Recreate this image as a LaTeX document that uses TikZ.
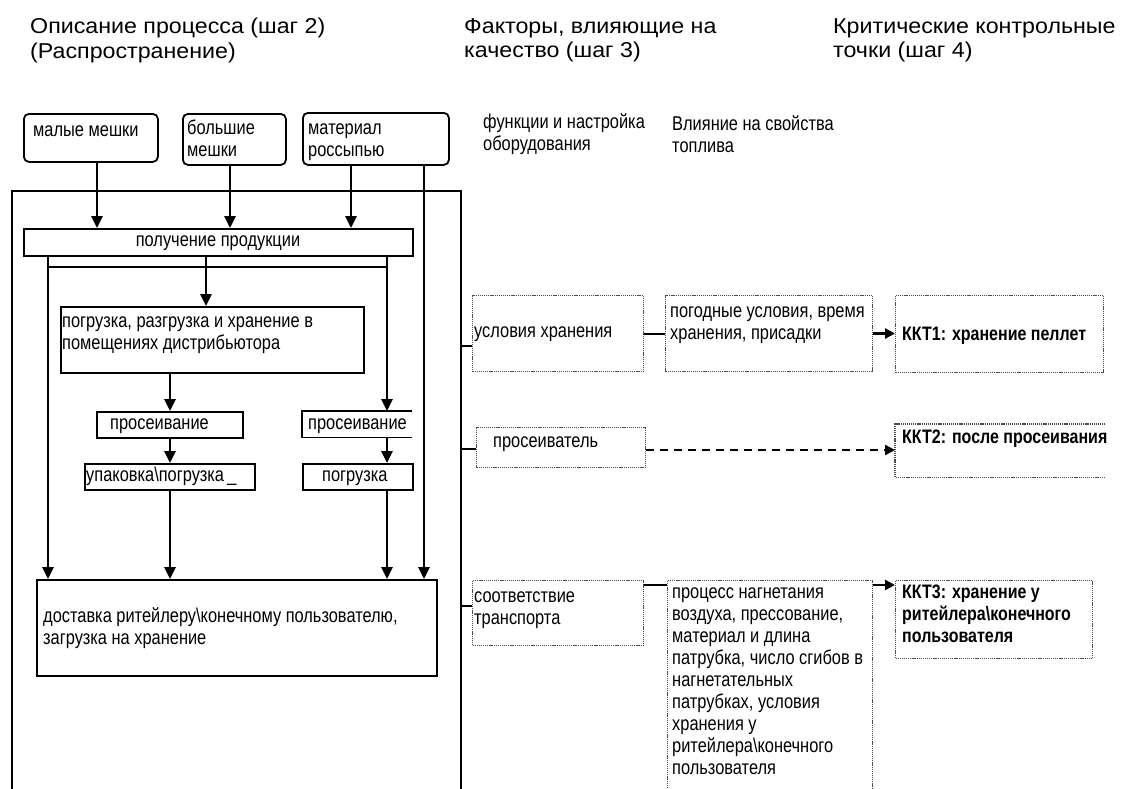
\documentclass[tikz,border=0pt]{standalone}
\usepackage{fontspec}
\setmainfont{Liberation Sans}
\newfontfamily\nf{Liberation Sans}[FakeStretch=0.82]
\newfontfamily\hf{Liberation Sans}[FakeStretch=1.08]
\newcommand\fstrut{\rule{0pt}{15pt}}
\usetikzlibrary{arrows.meta}
\tikzset{
  box/.style={draw, line width=1.8pt, anchor=north west, inner sep=0pt},
  rbox/.style={box, rounded corners=5pt},
  dbox/.style={draw=black!70, dash pattern=on 1.2pt off 0.9pt, line width=1.1pt, anchor=north west, inner sep=0pt},
  txt/.style={anchor=north west, inner sep=0pt, align=left, font=\nf\fontsize{20}{22}\selectfont},
  btxt/.style={txt, font=\nf\bfseries\fontsize{19.5}{22}\selectfont},
  ttl/.style={anchor=north west, inner sep=0pt, align=left, font=\hf\fontsize{21.5}{24.5}\selectfont},
  conn/.style={line width=2.8pt},
  arr/.style={conn, -{Triangle[length=12pt,width=11pt]}},
  rconn/.style={line width=2pt},
  rarr/.style={line width=2.8pt, -{Triangle[length=10pt,width=10pt]}},
  darr/.style={line width=2.5pt, dash pattern=on 8pt off 6pt, -{Triangle[length=10pt,width=10pt]}}
}
\begin{document}
\begin{tikzpicture}[x=1pt,y=-1pt]
\useasboundingbox (0,0) rectangle (1125,788);

% titles
\node[ttl] (t1) at (30,18) {\fstrut Описание процесса (шаг 2)\\(Распространение)};
\node[ttl] (t2) at (464,18) {\fstrut Факторы, влияющие на\\качество (шаг 3)};
\node[ttl] (t3) at (833,18) {\fstrut Критические контрольные\\точки (шаг 4)};
\node[txt] (s1) at (483,113) {\fstrut функции и настройка\\оборудования};
\node[txt] (s2) at (672,115) {\fstrut Влияние на свойства\\топлива};

% outer frame
\node[draw, line width=1.6pt, anchor=north west, inner sep=0pt, minimum width=449pt, minimum height=620pt] (outer) at (11,190) {};

% top boxes
\node[rbox, minimum width=134pt, minimum height=48pt] (malye) at (23,113) {};
\node[txt] (malyet) at (33,121) {\fstrut малые мешки};
\node[rbox, minimum width=103pt, minimum height=51pt] (bolshie) at (182,113) {};
\node[txt] (bolshiet) at (187,119) {\fstrut большие\\мешки};
\node[rbox, minimum width=146pt, minimum height=52pt] (mater) at (302,112) {};
\node[txt] (matert) at (308,119) {\fstrut материал\\россыпью};

% process boxes
\node[box, fill=white, minimum width=389pt, minimum height=27pt] (prod) at (23,228) {};
\node[txt, anchor=north] (prodt) at (218,231) {\fstrut получение продукции};
\node[box, minimum width=303pt, minimum height=66pt] (pogr) at (60,306) {};
\node[txt] (pogrt) at (62,312) {\fstrut погрузка, разгрузка и хранение в\\помещениях дистрибьютора};
\node[box, minimum width=146pt, minimum height=26pt] (pros1) at (96,411) {};
\node[txt] (pros1t) at (110,414) {\fstrut просеивание};
\node[box, minimum width=170pt, minimum height=26pt] (upak) at (84,463) {};
\node[txt] (upakt) at (86,466) {\fstrut упаковка\textbackslash погрузка\,\_};
\node[anchor=north west, inner sep=0pt, minimum width=110pt, minimum height=26pt] (pros2) at (302,411) {};
\draw[line width=1.8pt] (pros2.north east) -- (pros2.north west) -- (pros2.south west) -- (pros2.south east);
\draw[line width=2.6pt] (pros2.north west) -- (pros2.north east);
\node[txt] (pros2t) at (308,414) {\fstrut просеивание};
\node[box, minimum width=110pt, minimum height=26pt] (pogr2) at (302,463) {};
\node[txt] (pogr2t) at (322,466) {\fstrut погрузка};
\node[box, minimum width=400pt, minimum height=96pt] (deliv) at (36,579) {};
\node[txt] (delivt) at (43,607) {\fstrut доставка ритейлеру\textbackslash конечному пользователю,\\загрузка на хранение};

% x positions
\coordinate (xa) at (97,0);
\coordinate (xb) at (230,0);
\coordinate (xc) at (351,0);
\coordinate (xd) at (424,0);
\coordinate (xe) at (48,0);
\coordinate (xf) at (206,0);
\coordinate (xg) at (387,0);
\coordinate (xh) at (170,0);
\coordinate (hy) at (0,267);

% left connectors
\draw[arr] (malye.south -| xa) -- (prod.north -| xa);
\draw[arr] (bolshie.south -| xb) -- (prod.north -| xb);
\draw[arr] (mater.south -| xc) -- (prod.north -| xc);
\draw[arr] (mater.south -| xd) -- (deliv.north -| xd);
\draw[arr] (prod.south -| xe) -- (deliv.north -| xe);
\draw[arr] (prod.south -| xg) -- (pros2.north -| xg);
\draw[arr] (prod.south -| xf) -- (pogr.north -| xf);
\draw[conn] (hy -| xe) -- (hy -| xg);
\draw[arr] (pogr.south -| xh) -- (pros1.north -| xh);
\draw[arr] (pros1.south -| xh) -- (upak.north -| xh);
\draw[arr] (upak.south -| xh) -- (deliv.north -| xh);
\draw[arr] (pros2.south -| xg) -- (pogr2.north -| xg);
\draw[arr] (pogr2.south -| xg) -- (deliv.north -| xg);

% right column boxes
\node[dbox, minimum width=171pt, minimum height=76pt] (f1) at (472,295) {};
\node[txt] (f1t) at (474,322) {\fstrut условия хранения};
\node[dbox, minimum width=207pt, minimum height=76pt] (e1) at (665,295) {};
\node[txt] (e1t) at (670,302) {\fstrut погодные условия, время\\хранения, присадки};
\node[dbox, minimum width=208pt, minimum height=77pt] (k1) at (895,295) {};
\node[btxt] (k1t) at (902,325) {\fstrut ККТ1: хранение пеллет};

\node[dbox, minimum width=169pt, minimum height=40pt] (f2) at (476,427) {};
\node[txt] (f2t) at (493,432) {\fstrut просеиватель};
\node[anchor=north west, inner sep=0pt, minimum width=210pt, minimum height=53pt] (k2) at (895,424) {};
\draw[draw=black!70, dash pattern=on 1.2pt off 0.9pt, line width=1.1pt] (k2.north east) -- (k2.north west) -- (k2.south west) -- (k2.south east);
\node[btxt] (k2t) at (902,428) {\fstrut ККТ2: после просеивания};

\node[dbox, minimum width=171pt, minimum height=65pt] (f3) at (472,580) {};
\node[txt] (f3t) at (474,587) {\fstrut соответствие\\транспорта};
\node[dbox, minimum width=205pt, minimum height=230pt] (e3) at (667,580) {};
\node[txt] (e3t) at (672,583) {\fstrut процесс нагнетания\\воздуха, прессование,\\материал и длина\\патрубка, число сгибов в\\нагнетательных\\патрубках, условия\\хранения у\\ритейлера\textbackslash конечного\\пользователя};
\node[dbox, minimum width=197pt, minimum height=78pt] (k3) at (895,580) {};
\node[btxt] (k3t) at (902,583) {\fstrut ККТ3: хранение у\\ритейлера\textbackslash конечного\\пользователя};

% right connectors
\coordinate (y1) at (0,346);
\coordinate (y2) at (0,449);
\coordinate (y3) at (0,606);
\coordinate (yb) at (0,450);
\coordinate (yc) at (0,585);
\draw[line width=1.6pt] (outer.east |- y1) -- (f1.west |- y1);
\draw[line width=1.6pt] (outer.east |- y2) -- (f2.west |- y2);
\draw[line width=1.6pt] (outer.east |- y3) -- (f3.west |- y3);
\draw[rconn] (f1.east) -- (e1.west);
\draw[rarr] (e1.east) -- (k1.west |- e1.east);
\draw[darr] (f2.east |- yb) -- (k2.west |- yb);
\draw[rconn] (f3.east |- yc) -- (e3.west |- yc);
\draw[rarr] (e3.east |- yc) -- (k3.west |- yc);
\end{tikzpicture}
\end{document}
